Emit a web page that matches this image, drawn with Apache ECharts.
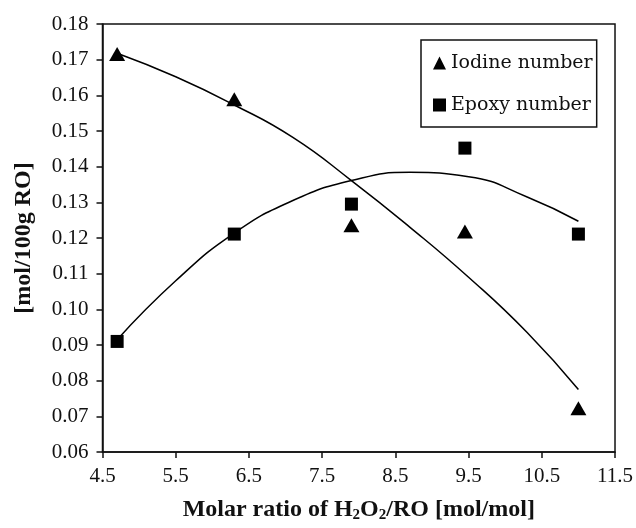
<!DOCTYPE html>
<html>
<head>
<meta charset="utf-8">
<script src="https://cdn.jsdelivr.net/npm/echarts@6/dist/echarts.min.js"></script>
<style>
  html, body { margin: 0; padding: 0; background: #fff; }
  #chart { width: 636px; height: 528px; }
</style>
</head>
<body>
<div id="chart"></div>
<script>
// measured points
const ratioX = [4.7, 6.3, 7.9, 9.45, 11.0]
const iodine = [0.1716, 0.1589, 0.1236, 0.1218, 0.0723]
const epoxy = [0.0910, 0.1211, 0.1295, 0.1452, 0.1211]

// trend lines
const fitX = [4.7, 5.5, 6.3, 7.1, 7.9, 8.7, 9.5, 10.3, 11.0]
const iodineFitY = [0.1718, 0.1652, 0.1573, 0.1482, 0.1361, 0.1230, 0.1090, 0.0935, 0.0775]
const epoxyFitY = [0.0915, 0.1080, 0.1214, 0.1305, 0.1361, 0.1384, 0.1372, 0.1315, 0.1247]

const xTicks = [4.5, 5.5, 6.5, 7.5, 8.5, 9.5, 10.5, 11.5]

const pair = (xs, ys) => xs.map((x, i) => [x, ys[i]])

const chart = echarts.init(document.getElementById('chart'))

const labelFont = { fontFamily: 'Liberation Serif', fontSize: 21, color: '#111' }
const titleFont = { fontFamily: 'Liberation Serif', fontSize: 24, fontWeight: 'bold', color: '#111' }

chart.setOption({
  animation: false,
  backgroundColor: '#fff',
  grid: {
    left: 102.5,
    right: 20,
    top: 24,
    bottom: 64.5,
    show: true,
    borderColor: '#111',
    borderWidth: 1.5
  },
  legend: {
    data: ['Iodine number', 'Epoxy number'],
    orient: 'vertical',
    left: 421,
    top: 40,
    padding: [13, 4, 12, 12],
    itemGap: 22,
    itemWidth: 13,
    itemHeight: 13,
    borderColor: '#111',
    borderWidth: 1.5,
    textStyle: { fontFamily: 'DejaVu Serif', fontSize: 19, color: '#111', lineHeight: 20 }
  },
  xAxis: {
    type: 'value',
    min: 4.5,
    max: 11.5,
    splitLine: { show: false },
    axisLine: { lineStyle: { color: '#111', width: 1.5 } },
    axisTick: { customValues: xTicks, length: 6, lineStyle: { color: '#111', width: 1.5 } },
    axisLabel: Object.assign({ customValues: xTicks, margin: 14, formatter: v => v.toFixed(1) }, labelFont),
    name: 'Molar ratio of H{sub|2}O{sub|2}/RO [mol/mol]',
    nameLocation: 'middle',
    nameGap: 44,
    nameTextStyle: Object.assign({
      rich: {
        sub: { fontFamily: 'Liberation Serif', fontSize: 15, fontWeight: 'bold', color: '#111', padding: [12, 0, 0, 0] }
      }
    }, titleFont)
  },
  yAxis: {
    type: 'value',
    min: 0.06,
    max: 0.18,
    interval: 0.01,
    splitLine: { show: false },
    axisLine: { lineStyle: { color: '#111', width: 1.5 } },
    axisTick: { length: 6, lineStyle: { color: '#111', width: 1.5 } },
    axisLabel: Object.assign({ margin: 14, formatter: v => v.toFixed(2) }, labelFont),
    name: '[mol/100g RO]',
    nameLocation: 'middle',
    nameGap: 67,
    nameTextStyle: titleFont
  },
  series: [
    {
      name: 'Iodine fit',
      type: 'line',
      data: pair(fitX, iodineFitY),
      smooth: 0.5,
      showSymbol: false,
      lineStyle: { color: '#000', width: 1.5 }
    },
    {
      name: 'Epoxy fit',
      type: 'line',
      data: pair(fitX, epoxyFitY),
      smooth: 0.5,
      showSymbol: false,
      lineStyle: { color: '#000', width: 1.5 }
    },
    {
      name: 'Iodine number',
      type: 'scatter',
      data: pair(ratioX, iodine),
      symbol: 'triangle',
      symbolSize: [16, 14],
      itemStyle: { color: '#000', opacity: 1 }
    },
    {
      name: 'Epoxy number',
      type: 'scatter',
      data: pair(ratioX, epoxy),
      symbol: 'rect',
      symbolSize: 13,
      itemStyle: { color: '#000', opacity: 1 }
    }
  ]
})

window.addEventListener('resize', () => chart.resize())
</script>
</body>
</html>
